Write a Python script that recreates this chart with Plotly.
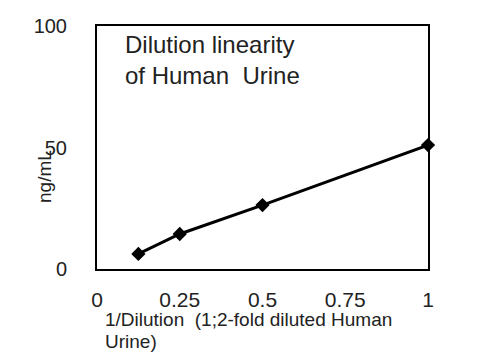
import plotly.graph_objects as go

x_vals = [0.125, 0.25, 0.5, 1.0]
y_vals = [6.2, 14.4, 26.3, 51.0]
x_ticks = [0, 0.25, 0.5, 0.75, 1]
x_tick_text = ["0", "0.25", "0.5", "0.75", "1"]
y_ticks = [0, 50, 100]
y_tick_text = ["0", "50", "100"]

FONT = "Liberation Sans, Arial, sans-serif"

fig = go.Figure()
fig.add_trace(go.Scatter(
    x=x_vals, y=y_vals, mode="lines+markers",
    line=dict(color="black", width=3),
    marker=dict(symbol="diamond", size=11, color="black"),
    showlegend=False, cliponaxis=False,
))

L, R, T, B = 97, 72, 26, 91
W, H = 500, 360
pw, ph = W - L - R, H - T - B

def px(xp):
    return (xp - L) / pw

def py(yp):
    return (H - B - yp) / ph

fig.update_layout(
    width=W, height=H,
    margin=dict(l=L, r=R, t=T, b=B, pad=0),
    paper_bgcolor="white", plot_bgcolor="white",
    font=dict(family=FONT, size=18, color="#222"),
    xaxis=dict(range=[0, 1], tickvals=x_ticks, ticktext=x_tick_text,
               showgrid=False, zeroline=False, showline=True, mirror=True,
               linecolor="black", linewidth=2, ticks="", ticklabelstandoff=11,
               tickfont=dict(size=21, color="#222")),
    yaxis=dict(range=[0, 100], tickvals=y_ticks, ticktext=y_tick_text,
               showgrid=False, zeroline=False, showline=True, mirror=True,
               linecolor="black", linewidth=2, ticks="", ticklabelstandoff=24,
               tickfont=dict(size=20, color="#222")),
)

annots = [
    dict(text="Dilution linearity", x=px(123), y=py(45), size=24),
    dict(text="of Human  Urine", x=px(123), y=py(76), size=24),
    dict(text="1/Dilution  (1;2-fold diluted Human", x=px(103), y=py(319), size=19),
    dict(text="Urine)", x=px(103), y=py(341), size=19),
]
for a in annots:
    fig.add_annotation(text=a["text"], x=a["x"], y=a["y"], xref="paper", yref="paper",
                       xanchor="left", yanchor="middle", showarrow=False,
                       font=dict(family=FONT, size=a["size"], color="#222"))

fig.add_annotation(text="ng/mL", x=px(44), y=py(177), xref="paper", yref="paper",
                   xanchor="center", yanchor="middle", showarrow=False, textangle=-90,
                   font=dict(family=FONT, size=19, color="#222"))

fig.write_html("out.html")
